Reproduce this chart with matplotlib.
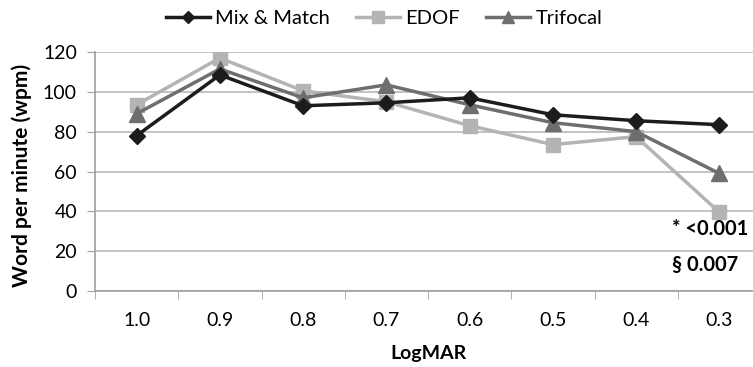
import matplotlib
matplotlib.use("Agg")
import matplotlib.pyplot as plt
import numpy as np

categories = ["1.0", "0.9", "0.8", "0.7", "0.6", "0.5", "0.4", "0.3"]
mix_match = [78, 108.5, 93, 94.5, 97, 88.5, 85.5, 83.5]
edof = [93.5, 117, 100.5, 95, 83, 73.5, 77.5, 39.5]
trifocal = [89, 111.5, 97, 103.5, 93.5, 84.5, 80, 59]
y_ticks = [0, 20, 40, 60, 80, 100, 120]

plt.rcParams['font.family'] = ['Lato', 'DejaVu Sans']

fig = plt.figure(figsize=(7.53, 3.67), dpi=100)
W, H = 753, 367
ax = fig.add_axes([95 / W, (H - 291) / H, (761 - 95) / W, (291 - 52) / H])

x = np.arange(len(categories))
ax.plot(x, mix_match, color="#1c1c1c", lw=2.5, marker="D", ms=8, label="Mix & Match", zorder=5)
ax.plot(x, edof, color="#b4b4b4", lw=2.5, marker="s", ms=10, label="EDOF", zorder=3)
ax.plot(x, trifocal, color="#6e6e6e", lw=2.5, marker="^", ms=11, label="Trifocal", zorder=4)

ax.set_xlim(-0.5, len(categories) - 0.5)
ax.set_ylim(0, 120)
ax.set_yticks(y_ticks)
ax.set_xticks(x)
ax.set_xticklabels(categories)
ax.set_xticks(np.arange(-0.5, len(categories) - 0.4, 1), minor=True)
ax.tick_params(axis="x", which="major", length=0, labelsize=14, pad=15)
ax.tick_params(axis="x", which="minor", length=6, color="#a0a0a0", direction="out")
ax.tick_params(axis="y", length=6, color="#a0a0a0", labelsize=14, pad=7)
ax.yaxis.grid(True, color="#b8b8b8", lw=1.2)
ax.set_axisbelow(True)
for s in ["top", "right"]:
    ax.spines[s].set_visible(False)
for s in ["left", "bottom"]:
    ax.spines[s].set_color("#a0a0a0")
    ax.spines[s].set_linewidth(1.2)

fig.text(22 / W, 1 - 175 / H, "Word per minute (wpm)", fontsize=15, fontweight="bold",
         rotation=90, ha="center", va="center")
fig.text(428 / W, 1 - 354 / H, "LogMAR", fontsize=14, fontweight="bold", ha="center", va="center")

fig.text(672 / W, 1 - 229 / H, "* <0.001", fontsize=14.5, fontweight="bold", va="center", ha="left")
fig.text(672 / W, 1 - 265 / H, "§ 0.007", fontsize=14.5, fontweight="bold", va="center", ha="left")

leg = fig.legend(loc="center", bbox_to_anchor=(384 / W, 1 - 18 / H), ncol=3, frameon=False,
                 fontsize=14.5, handlelength=2.2, handletextpad=0.25, columnspacing=1.3,
                 markerscale=0.8)

fig.savefig("out.png", dpi=100)
